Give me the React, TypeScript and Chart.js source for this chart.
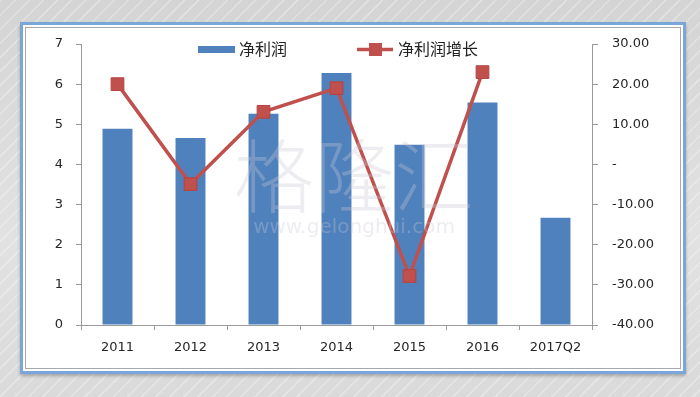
import React, { useEffect, useRef } from "react";
import { Chart, registerables } from "chart.js";

Chart.register(...registerables);

const categories = ["2011", "2012", "2013", "2014", "2015", "2016", "2017Q2"];
const netProfit = [4.89, 4.66, 5.26, 6.28, 4.49, 5.54, 2.67];
const netProfitGrowth = [20.0, -4.9, 13.1, 19.0, -27.8, 23.0, null];
const leftTickLabels = ["0", "1", "2", "3", "4", "5", "6", "7"];
const rightTickLabels = ["-40.00", "-30.00", "-20.00", "-10.00", "-", "10.00", "20.00", "30.00"];
const barLabel = "净利润";
const lineLabel = "净利润增长";
const watermarkMain = "格隆汇";
const watermarkSub = "www.gelonghui.com";

const BLUE = "#4f81bd";
const RED = "#c0504d";
const TICK_FONT = { family: "'DejaVu Sans', Verdana, sans-serif", size: 13 };
const TICK_COLOR = "#262626";
const AXIS_COLOR = "#9a9a9a";

const overlayPlugin = {
  id: "overlay",
  afterDatasetsDraw(chart: any) {
    const { ctx } = chart;
    ctx.save();
    // watermark (semi-transparent, over the bars)
    ctx.textAlign = "center";
    ctx.textBaseline = "middle";
    ctx.fillStyle = "rgba(200,200,212,0.33)";
    ctx.font = "300 80px 'Noto Sans CJK SC'";
    ctx.fillText(watermarkMain, 354, 176);
    ctx.font = "20px 'DejaVu Sans'";
    ctx.fillText(watermarkSub, 354, 228);

    // legend
    ctx.textAlign = "left";
    ctx.font = "16px 'Noto Sans CJK SC'";
    ctx.fillStyle = BLUE;
    ctx.fillRect(198, 46, 37, 7);
    ctx.fillStyle = "#222";
    ctx.fillText(barLabel, 239, 49);
    ctx.strokeStyle = RED;
    ctx.lineWidth = 3.5;
    ctx.beginPath();
    ctx.moveTo(357, 49.5);
    ctx.lineTo(393, 49.5);
    ctx.stroke();
    ctx.fillStyle = RED;
    ctx.fillRect(369, 43, 13, 13);
    ctx.fillStyle = "#222";
    ctx.fillText(lineLabel, 398, 49);
    ctx.restore();
  },
};

export default function App() {
  const ref = useRef<HTMLCanvasElement | null>(null);

  useEffect(() => {
    if (!ref.current) return;
    const chart = new Chart(ref.current, {
      type: "bar",
      data: {
        labels: categories,
        datasets: [
          {
            type: "line",
            label: lineLabel,
            data: netProfitGrowth as any,
            yAxisID: "y1",
            borderColor: RED,
            backgroundColor: RED,
            borderWidth: 3.5,
            pointStyle: "rect",
            pointRadius: 9,
            pointBorderColor: "#b8433f",
            pointBorderWidth: 1,
            spanGaps: false,
            order: 0,
          } as any,
          {
            type: "bar",
            label: barLabel,
            data: netProfit,
            yAxisID: "y",
            backgroundColor: BLUE,
            barPercentage: 0.41,
            categoryPercentage: 1,
            order: 1,
          },
        ],
      },
      options: {
        responsive: false,
        animation: false,
        layout: { padding: { left: 40, right: 38, top: 44, bottom: 30 } },
        plugins: {
          legend: { display: false },
          tooltip: { enabled: false },
        },
        scales: {
          x: {
            offset: true,
            grid: {
              offset: true,
              drawOnChartArea: false,
              drawTicks: true,
              tickLength: 5,
              color: AXIS_COLOR,
            },
            border: { color: AXIS_COLOR, width: 1 },
            ticks: { font: TICK_FONT, color: TICK_COLOR, padding: 10, maxRotation: 0 },
            afterFit(scale: any) {
              scale.height = 42;
            },
          },
          y: {
            position: "left",
            min: 0,
            max: 7,
            ticks: {
              stepSize: 1,
              font: TICK_FONT,
              color: TICK_COLOR,
              padding: 13,
              callback: (_v: any, i: number) => leftTickLabels[i],
            },
            grid: { drawOnChartArea: false, tickLength: 5, color: AXIS_COLOR },
            border: { color: AXIS_COLOR, width: 1 },
            afterFit(scale: any) {
              scale.width = 41;
            },
          },
          y1: {
            position: "right",
            min: -40,
            max: 30,
            ticks: {
              stepSize: 10,
              font: TICK_FONT,
              color: TICK_COLOR,
              padding: 14,
              callback: (_v: any, i: number) => rightTickLabels[i],
            },
            grid: { drawOnChartArea: false, tickLength: 6, color: AXIS_COLOR },
            border: { color: AXIS_COLOR, width: 1 },
            afterFit(scale: any) {
              scale.width = 70;
            },
          },
        },
      },
      plugins: [overlayPlugin],
    });
    return () => chart.destroy();
  }, []);

  return (
    <div
      style={{
        position: "absolute",
        left: 0,
        top: 0,
        width: 700,
        height: 397,
        overflow: "hidden",
        background:
          "repeating-linear-gradient(135deg, rgba(255,255,255,0.3) 0px, rgba(255,255,255,0.3) 1px, rgba(255,255,255,0) 2px, rgba(255,255,255,0) 10px), linear-gradient(180deg, #d4d4d4 0%, #e2e2e2 60%, #dadada 100%)",
      }}
    >
      <div
        style={{
          position: "absolute",
          left: 20,
          top: 22,
          width: 666,
          height: 352,
          boxSizing: "border-box",
          border: "3px solid #7aa6da",
          background: "#ffffff",
          boxShadow: "0 2px 3px rgba(0,0,0,0.25)",
        }}
      >
        <div
          style={{
            position: "absolute",
            left: 2,
            top: 2,
            right: 2,
            bottom: 2,
            border: "1px solid #a8a8a8",
          }}
        />
      </div>
      <canvas
        ref={ref}
        width={700}
        height={397}
        style={{ position: "absolute", left: 0, top: 0, width: 700, height: 397 }}
      />
    </div>
  );
}
